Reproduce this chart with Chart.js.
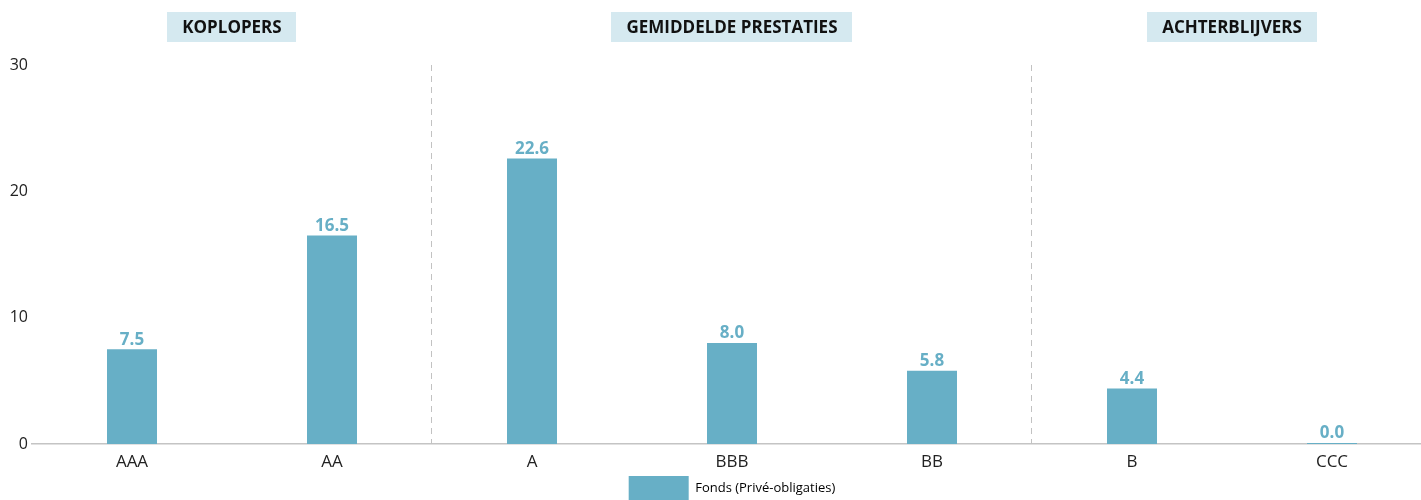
<!DOCTYPE html>
<html>
<head>
<meta charset="utf-8">
<script src="https://cdn.jsdelivr.net/npm/chart.js@4/dist/chart.umd.min.js"></script>
<style>
  html, body { margin: 0; padding: 0; overflow: hidden; background: #fff; }
  #wrap { position: relative; width: 1432px; height: 510px; }
</style>
</head>
<body>
<div id="wrap"><canvas id="chart"></canvas></div>
<script>
// data
const categories = ['AAA', 'AA', 'A', 'BBB', 'BB', 'B', 'CCC']
const fondsValues = [7.5, 16.5, 22.6, 8.0, 5.8, 4.4, 0.0]
const seriesLabel = 'Fonds (Privé-obligaties)'
const groups = [
  { label: 'KOPLOPERS', from: 0, to: 1 },
  { label: 'GEMIDDELDE PRESTATIES', from: 2, to: 4 },
  { label: 'ACHTERBLIJVERS', from: 5, to: 6 },
]
const yTicks = [0, 10, 20, 30]

const barColor = '#67afc6'
const font = "'Open Sans', sans-serif"

// group headers, dashed dividers, value labels
const decorations = {
  id: 'decorations',
  afterLayout(chart) {
    // center the legend under the plot area, not the whole canvas
    if (chart.legend) chart.legend.left = chart.chartArea.left
  },
  beforeDatasetsDraw(chart) {
    const { ctx, chartArea, scales } = chart
    const x = scales.x
    ctx.save()
    ctx.strokeStyle = '#c2c2c2'
    ctx.lineWidth = 1
    ctx.setLineDash([6, 5])
    groups.slice(1).forEach((g) => {
      const px = Math.round((x.getPixelForValue(g.from - 1) + x.getPixelForValue(g.from)) / 2) - 0.5
      ctx.beginPath()
      ctx.moveTo(px, chartArea.top)
      ctx.lineTo(px, chartArea.bottom)
      ctx.stroke()
    })
    ctx.restore()
  },
  afterDatasetsDraw(chart) {
    const { ctx, scales } = chart
    const x = scales.x
    ctx.save()
    // headers
    ctx.font = `bold 17px ${font}`
    ctx.textAlign = 'center'
    ctx.textBaseline = 'middle'
    groups.forEach((g) => {
      const cx = (x.getPixelForValue(g.from) + x.getPixelForValue(g.to)) / 2
      const w = ctx.measureText(g.label).width + 30
      ctx.fillStyle = '#d5e9f0'
      ctx.fillRect(Math.round(cx - w / 2), 12, Math.round(w), 30)
      ctx.fillStyle = '#111'
      ctx.fillText(g.label, cx, 28)
    })
    // value labels
    ctx.font = `bold 17px ${font}`
    ctx.fillStyle = barColor
    ctx.textBaseline = 'bottom'
    chart.getDatasetMeta(0).data.forEach((bar, i) => {
      ctx.fillText(fondsValues[i].toFixed(1), bar.x, bar.y - 1)
    })
    ctx.restore()
  },
}

new Chart(document.getElementById('chart'), {
  type: 'bar',
  data: {
    labels: categories,
    datasets: [
      {
        label: seriesLabel,
        data: fondsValues,
        backgroundColor: barColor,
        borderColor: barColor,
        borderWidth: 0,
        barPercentage: 0.25,
        categoryPercentage: 1,
        minBarLength: 1,
      },
    ],
  },
  options: {
    responsive: true,
    maintainAspectRatio: false,
    animation: false,
    layout: { padding: { top: 65, right: 0, bottom: 0, left: 0 } },
    plugins: {
      tooltip: { enabled: false },
      legend: {
        position: 'bottom',
        labels: {
          boxWidth: 60,
          boxHeight: 24,
          padding: 0,
          color: '#222',
          font: { family: font, size: 13 },
          generateLabels(chart) {
            return [{ text: seriesLabel, fillStyle: barColor, strokeStyle: barColor, lineWidth: 0, datasetIndex: 0 }]
          },
        },
      },
    },
    scales: {
      x: {
        grid: { display: false, drawTicks: false },
        border: { display: true, color: '#c4c4c4', width: 1.5 },
        ticks: { color: '#222', font: { family: font, size: 17 }, padding: 8 },
        afterFit(scale) { scale.height = 32 },
      },
      y: {
        min: 0,
        max: 30,
        afterBuildTicks(scale) { scale.ticks = yTicks.map((v) => ({ value: v })) },
        grid: { display: false, drawTicks: false },
        border: { display: false },
        ticks: { color: '#222', font: { family: font, size: 16 }, padding: 4 },
        afterFit(scale) { scale.width = 32 },
      },
    },
  },
  plugins: [decorations],
})
</script>
</body>
</html>
